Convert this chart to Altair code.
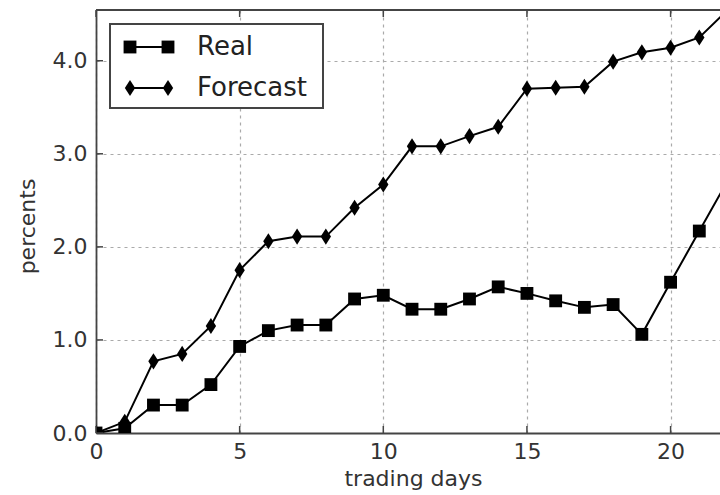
import altair as alt
import pandas as pd

# Cumulative returns per trading day
days = list(range(23))
real = [0.0, 0.05, 0.30, 0.30, 0.52, 0.93, 1.10, 1.16, 1.16, 1.44, 1.48, 1.33,
        1.33, 1.44, 1.57, 1.50, 1.42, 1.35, 1.38, 1.06, 1.62, 2.17, 2.72]
forecast = [0.0, 0.12, 0.77, 0.85, 1.15, 1.75, 2.06, 2.11, 2.11, 2.42, 2.67, 3.08,
            3.08, 3.19, 3.29, 3.70, 3.71, 3.72, 3.99, 4.09, 4.14, 4.25, 4.55]
series_names = ["Real", "Forecast"]
x_ticks = [0, 5, 10, 15, 20]
y_ticks = [0, 1, 2, 3, 4]

W, H = 624, 423
FONT = "DejaVu Sans"
TEXT = "#333333"
SPINE = "#444444"
THIN_DIAMOND = "M0,-1L0.64,0L0,1L-0.64,0Z"
SQ_SIZE, DM_SIZE = 165, 260

df = pd.DataFrame({
    "day": days * 2,
    "value": real + forecast,
    "series": [series_names[0]] * len(days) + [series_names[1]] * len(days),
})
df_real = df[df["series"] == "Real"]
df_fc = df[df["series"] == "Forecast"]
xt = pd.DataFrame({"tick": x_ticks})
yt = pd.DataFrame({"tick": y_ticks})

GRID = dict(grid=True, gridColor="#aaaaaa", gridDash=[3, 4], gridWidth=1.2)


def xenc(field):
    return alt.X(
        f"{field}:Q",
        scale=alt.Scale(domain=[0, 21.72], nice=False, zero=False),
        axis=alt.Axis(
            values=x_ticks, format="d", title="trading days",
            labelFont=FONT, labelFontSize=22, labelColor=TEXT, labelPadding=8,
            labelFlush=False, labelOverlap=False,
            tickSize=0, domainColor=SPINE, domainWidth=1.8,
            titleFont=FONT, titleFontSize=22, titleFontWeight="normal",
            titleColor=TEXT, titleX=317, titleY=52, titleBaseline="alphabetic",
            titleAlign="center", **GRID,
        ),
    )


def yenc(field):
    return alt.Y(
        f"{field}:Q",
        scale=alt.Scale(domain=[0, 4.545], nice=False),
        axis=alt.Axis(
            values=y_ticks, format=".1f", title="percents",
            labelFont=FONT, labelFontSize=22, labelColor=TEXT, labelPadding=9,
            labelFlush=False, labelOverlap=False,
            tickSize=0, domainColor=SPINE, domainWidth=1.8,
            titleFont=FONT, titleFontSize=22, titleFontWeight="normal",
            titleColor=TEXT, titleX=-69, titleY=216, titleAngle=270,
            titleAlign="center", titleBaseline="middle", **GRID,
        ),
    )


lines = alt.Chart(df).mark_line(color="black", strokeWidth=2, clip=True).encode(
    x=xenc("day"), y=yenc("value"), detail="series:N"
)
pts_real = alt.Chart(df_real).mark_point(
    shape="square", filled=True, size=SQ_SIZE, color="black", opacity=1, clip=True
).encode(x=xenc("day"), y=yenc("value"))
pts_fc = alt.Chart(df_fc).mark_point(
    shape=THIN_DIAMOND, filled=True, size=DM_SIZE, color="black", opacity=1, clip=True
).encode(x=xenc("day"), y=yenc("value"))

# inward tick marks
ticks_bottom = alt.Chart(xt).mark_rule(color=SPINE, strokeWidth=1.5).encode(
    x=xenc("tick"), y=alt.value(H), y2=alt.value(H - 7)
)
ticks_top = alt.Chart(xt).mark_rule(color=SPINE, strokeWidth=1.5).encode(
    x=xenc("tick"), y=alt.value(0), y2=alt.value(7)
)
ticks_left = alt.Chart(yt).mark_rule(color=SPINE, strokeWidth=1.5).encode(
    y=yenc("tick"), x=alt.value(0), x2=alt.value(7)
)
top_spine = alt.Chart(pd.DataFrame({"k": [0]})).mark_rule(
    color=SPINE, strokeWidth=1.8
).encode(x=alt.value(0), x2=alt.value(W), y=alt.value(0))

# legend box
one = pd.DataFrame({"k": [0]})
leg_box = alt.Chart(one).mark_rect(
    fill="white", stroke=SPINE, strokeWidth=2
).encode(x=alt.value(14), x2=alt.value(227), y=alt.value(14), y2=alt.value(98))

legend_layers = [leg_box]
for name, ypix, shape, size in [
    (series_names[0], 37, "square", SQ_SIZE),
    (series_names[1], 78, THIN_DIAMOND, DM_SIZE),
]:
    legend_layers.append(
        alt.Chart(one).mark_rule(color="black", strokeWidth=2).encode(
            x=alt.value(34), x2=alt.value(72), y=alt.value(ypix)
        )
    )
    for xp in (34, 72):
        legend_layers.append(
            alt.Chart(one).mark_point(
                shape=shape, filled=True, size=size, color="black", opacity=1
            ).encode(x=alt.value(xp), y=alt.value(ypix))
        )
    legend_layers.append(
        alt.Chart(pd.DataFrame({"label": [name]})).mark_text(
            align="left", baseline="middle", font=FONT, fontSize=26, color="#222222"
        ).encode(x=alt.value(101), y=alt.value(ypix), text="label:N")
    )

chart = alt.layer(
    lines, pts_real, pts_fc, ticks_bottom, ticks_top, ticks_left, top_spine,
    *legend_layers
).properties(
    width=W, height=H,
    autosize=alt.AutoSizeParams(type="none"),
    padding={"left": 96, "top": 10, "right": 0, "bottom": 62},
).configure_view(stroke=None).configure(background="white")

chart.save("out.html", embed_options={"renderer": "svg", "actions": False})
